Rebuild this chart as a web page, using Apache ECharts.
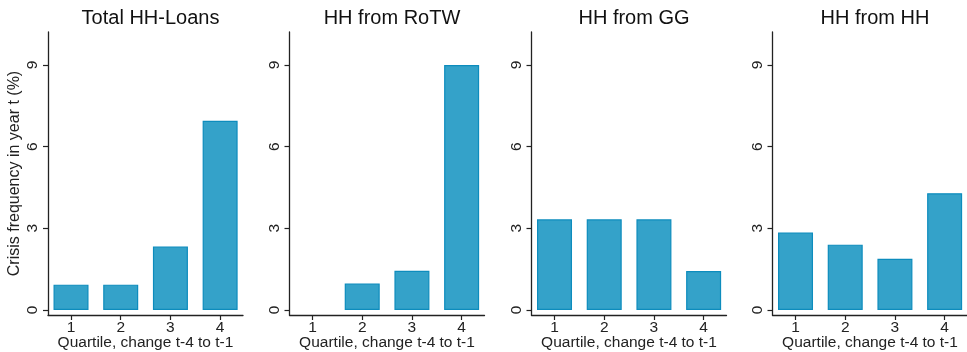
<!DOCTYPE html>
<html>
<head>
<meta charset="utf-8">
<script src="https://cdn.jsdelivr.net/npm/echarts@6/dist/echarts.min.js"></script>
<style>
  html, body { margin: 0; padding: 0; background: #fff; }
  #chart { width: 967px; height: 352px; }
</style>
</head>
<body>
<div id="chart"></div>
<script>
// Crisis frequency by quartile of the change in household credit
const quartiles = [1, 2, 3, 4];
const totalHHLoans = [0.93, 0.93, 2.33, 6.95];
const hhFromRoTW = [0, 0.97, 1.44, 9.0];
const hhFromGG = [3.33, 3.33, 3.33, 1.43];
const hhFromHH = [2.85, 2.40, 1.88, 4.29];
const panelTitles = ['Total HH-Loans', 'HH from RoTW', 'HH from GG', 'HH from HH'];
const yTickValues = [0, 3, 6, 9];
const yAxisTitle = 'Crisis frequency in year t (%)';
const xAxisTitle = 'Quartile, change t-4 to t-1';

const panelValues = [totalHHLoans, hhFromRoTW, hhFromGG, hhFromHH];

const FONT = 'Liberation Sans, Arial, sans-serif';
const AXIS_COLOR = '#222';
const gridLefts = [48, 289.5, 531.5, 772.5];
const gridWidth = 195;
const gridTop = 32;
const gridBottom = 37;

const chart = echarts.init(document.getElementById('chart'), null, { renderer: 'canvas' });

const option = {
  backgroundColor: '#fff',
  animation: false,
  title: panelTitles.map((t, i) => ({
    text: t,
    left: gridLefts[i] + gridWidth / 2,
    top: 3,
    textAlign: 'center',
    textStyle: { fontFamily: FONT, fontSize: 20, fontWeight: 'normal', color: '#111' }
  })),
  grid: gridLefts.map(l => ({
    left: l, width: gridWidth, top: gridTop, bottom: gridBottom,
    containLabel: false, outerBoundsMode: 'none'
  })),
  xAxis: gridLefts.map((l, i) => ({
    type: 'value',
    gridIndex: i,
    min: 0.537,
    max: 4.46,
    splitLine: { show: false },
    axisLine: { show: true, onZero: false, lineStyle: { color: AXIS_COLOR, width: 1.3 } },
    axisTick: { show: true, length: 5, customValues: quartiles, lineStyle: { color: AXIS_COLOR, width: 1.2 } },
    axisLabel: {
      customValues: quartiles, margin: 5, fontFamily: FONT, fontSize: 15.5, color: '#222'
    },
    name: xAxisTitle,
    nameLocation: 'middle',
    nameGap: 20,
    nameMoveOverlap: false,
    nameTextStyle: { fontFamily: FONT, fontSize: 15.5, color: '#222' }
  })),
  yAxis: gridLefts.map((l, i) => ({
    type: 'value',
    gridIndex: i,
    min: -0.184,
    max: 10.21,
    splitLine: { show: false },
    axisLine: { show: true, onZero: false, lineStyle: { color: AXIS_COLOR, width: 1.3 } },
    axisTick: { show: true, length: 5, customValues: yTickValues, lineStyle: { color: AXIS_COLOR, width: 1.2 } },
    axisLabel: {
      customValues: yTickValues, rotate: 90, margin: 7, fontFamily: FONT, fontSize: 15.5, color: '#222'
    },
    name: i === 0 ? yAxisTitle : '',
    nameLocation: 'middle',
    nameGap: 25,
    nameRotate: 90,
    nameMoveOverlap: false,
    nameTextStyle: { fontFamily: FONT, fontSize: 16, color: '#222' }
  })),
  series: panelValues.map((vals, i) => ({
    type: 'bar',
    xAxisIndex: i,
    yAxisIndex: i,
    barWidth: 35,
    data: quartiles.map((q, k) => ({
      value: [q, vals[k]],
      itemStyle: vals[k] === 0 ? { borderWidth: 0 } : undefined
    })),
    itemStyle: { color: '#34a2c9', borderColor: '#0d8cbd', borderWidth: 1.2 }
  }))
};

chart.setOption(option);
</script>
</body>
</html>
